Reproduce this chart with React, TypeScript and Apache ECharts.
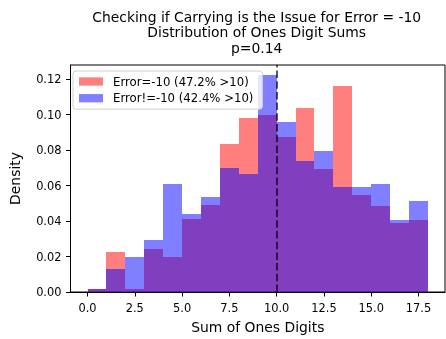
import React, { useEffect, useRef } from "react";
import * as echarts from "echarts";

const binStarts = [0, 1, 2, 3, 4, 5, 6, 7, 8, 9, 10, 11, 12, 13, 14, 15, 16, 17];
const binEnds = [1, 2, 3, 4, 5, 6, 7, 8, 9, 10, 11, 12, 13, 14, 15, 16, 17, 18];
const errorEqDensity = [
  0.0017, 0.0223, 0.0017, 0.0245, 0.02, 0.0409, 0.049, 0.0834, 0.0979,
  0.0997, 0.0875, 0.1037, 0.0692, 0.1162, 0.0547, 0.0487, 0.0388, 0.0407,
];
const errorNeDensity = [
  0.0017, 0.0129, 0.02, 0.0293, 0.0609, 0.044, 0.0536, 0.0701, 0.0666,
  0.1221, 0.096, 0.0739, 0.0793, 0.0591, 0.0591, 0.0609, 0.0405, 0.0515,
];
const xTicks = [0, 2.5, 5, 7.5, 10, 12.5, 15, 17.5];
const yTicks = [0, 0.02, 0.04, 0.06, 0.08, 0.1, 0.12];
const seriesNames = ["Error=-10 (47.2% >10)", "Error!=-10 (42.4% >10)"];
const thresholdValue = 10;
const titleText =
  "Checking if Carrying is the Issue for Error = -10\nDistribution of Ones Digit Sums\np=0.14";

const FONT = "DejaVu Sans";

function histData(values: number[]) {
  return values.map((v, i) => [binStarts[i], binEnds[i], v]);
}

function renderBin(params: any, api: any) {
  const p0 = api.coord([api.value(0), 0]);
  const p1 = api.coord([api.value(1), api.value(2)]);
  const x0 = Math.round(p0[0]);
  const x1 = Math.round(p1[0]);
  const yb = Math.round(p0[1]);
  const yt = Math.round(p1[1]);
  return {
    type: "rect",
    shape: { x: x0, y: yt, width: x1 - x0, height: yb - yt },
    style: { fill: api.visual("color") },
  };
}

export default function App() {
  const ref = useRef<HTMLDivElement>(null);
  useEffect(() => {
    if (!ref.current) return;
    const chart = echarts.init(ref.current, undefined, { renderer: "svg" });
    chart.setOption({
      animation: false,
      title: {
        text: titleText,
        left: 256.7,
        top: 9.5,
        padding: 0,
        textAlign: "center",
        textStyle: {
          fontFamily: FONT,
          fontSize: 13.9,
          fontWeight: "normal",
          color: "#000",
          lineHeight: 15.3,
        },
      },
      grid: {
        left: 68.3,
        top: 65,
        right: 1,
        bottom: 46.7,
        show: true,
        borderColor: "#000",
        borderWidth: 1,
        backgroundColor: "transparent",
      },
      legend: {
        orient: "vertical",
        left: 73,
        top: 71,
        padding: [3.5, 9, 4, 6],
        itemGap: 2.7,
        itemWidth: 24,
        itemHeight: 8.3,
        backgroundColor: "rgba(255,255,255,0.8)",
        borderColor: "#d0d0d0",
        borderWidth: 1,
        borderRadius: 3,
        data: seriesNames.map((n) => ({ name: n, icon: "rect" })),
        textStyle: {
          fontFamily: FONT,
          fontSize: 11.7,
          color: "#000",
          lineHeight: 14,
          padding: [0, 0, 0, 5],
        },
      },
      xAxis: {
        type: "value",
        min: -0.9,
        max: 18.9,
        name: "Sum of Ones Digits",
        nameLocation: "middle",
        nameGap: 28,
        nameTextStyle: { fontFamily: FONT, fontSize: 13.9, color: "#000" },
        axisLine: { show: true, onZero: false, lineStyle: { color: "#000", width: 1 } },
        axisTick: {
          show: true,
          length: 4.5,
          lineStyle: { color: "#000", width: 1 },
          customValues: xTicks,
        },
        axisLabel: {
          fontFamily: FONT,
          fontSize: 11.4,
          color: "#000",
          margin: 10,
          customValues: xTicks,
          formatter: (v: number) => v.toFixed(1),
        },
        splitLine: { show: false },
      },
      yAxis: {
        type: "value",
        min: 0,
        max: 0.1279,
        name: "Density",
        nameLocation: "middle",
        nameGap: 48.5,
        nameRotate: 90,
        nameTextStyle: { fontFamily: FONT, fontSize: 13.9, color: "#000" },
        axisLine: { show: true, onZero: false, lineStyle: { color: "#000", width: 1 } },
        axisTick: {
          show: true,
          length: 4.5,
          lineStyle: { color: "#000", width: 1 },
          customValues: yTicks,
        },
        axisLabel: {
          fontFamily: FONT,
          fontSize: 11.4,
          color: "#000",
          margin: 9,
          customValues: yTicks,
          formatter: (v: number) => v.toFixed(2),
        },
        splitLine: { show: false },
      },
      series: [
        {
          name: seriesNames[0],
          type: "custom",
          renderItem: renderBin,
          itemStyle: { color: "rgba(255,0,0,0.5)" },
          encode: { x: [0, 1], y: 2 },
          data: histData(errorEqDensity),
          z: 2,
        },
        {
          name: seriesNames[1],
          type: "custom",
          renderItem: renderBin,
          itemStyle: { color: "rgba(0,0,255,0.5)" },
          encode: { x: [0, 1], y: 2 },
          data: histData(errorNeDensity),
          z: 3,
        },
        {
          name: "threshold",
          type: "line",
          data: [],
          z: 4,
          markLine: {
            silent: true,
            symbol: ["none", "none"],
            label: { show: false },
            lineStyle: { color: "rgba(0,0,0,0.65)", width: 2, type: [7.5, 3.2] },
            data: [{ xAxis: thresholdValue }],
          },
        },
      ],
    });
    return () => chart.dispose();
  }, []);
  return (
    <div
      ref={ref}
      style={{ position: "fixed", left: 0, top: 0, width: 446, height: 339 }}
    />
  );
}
